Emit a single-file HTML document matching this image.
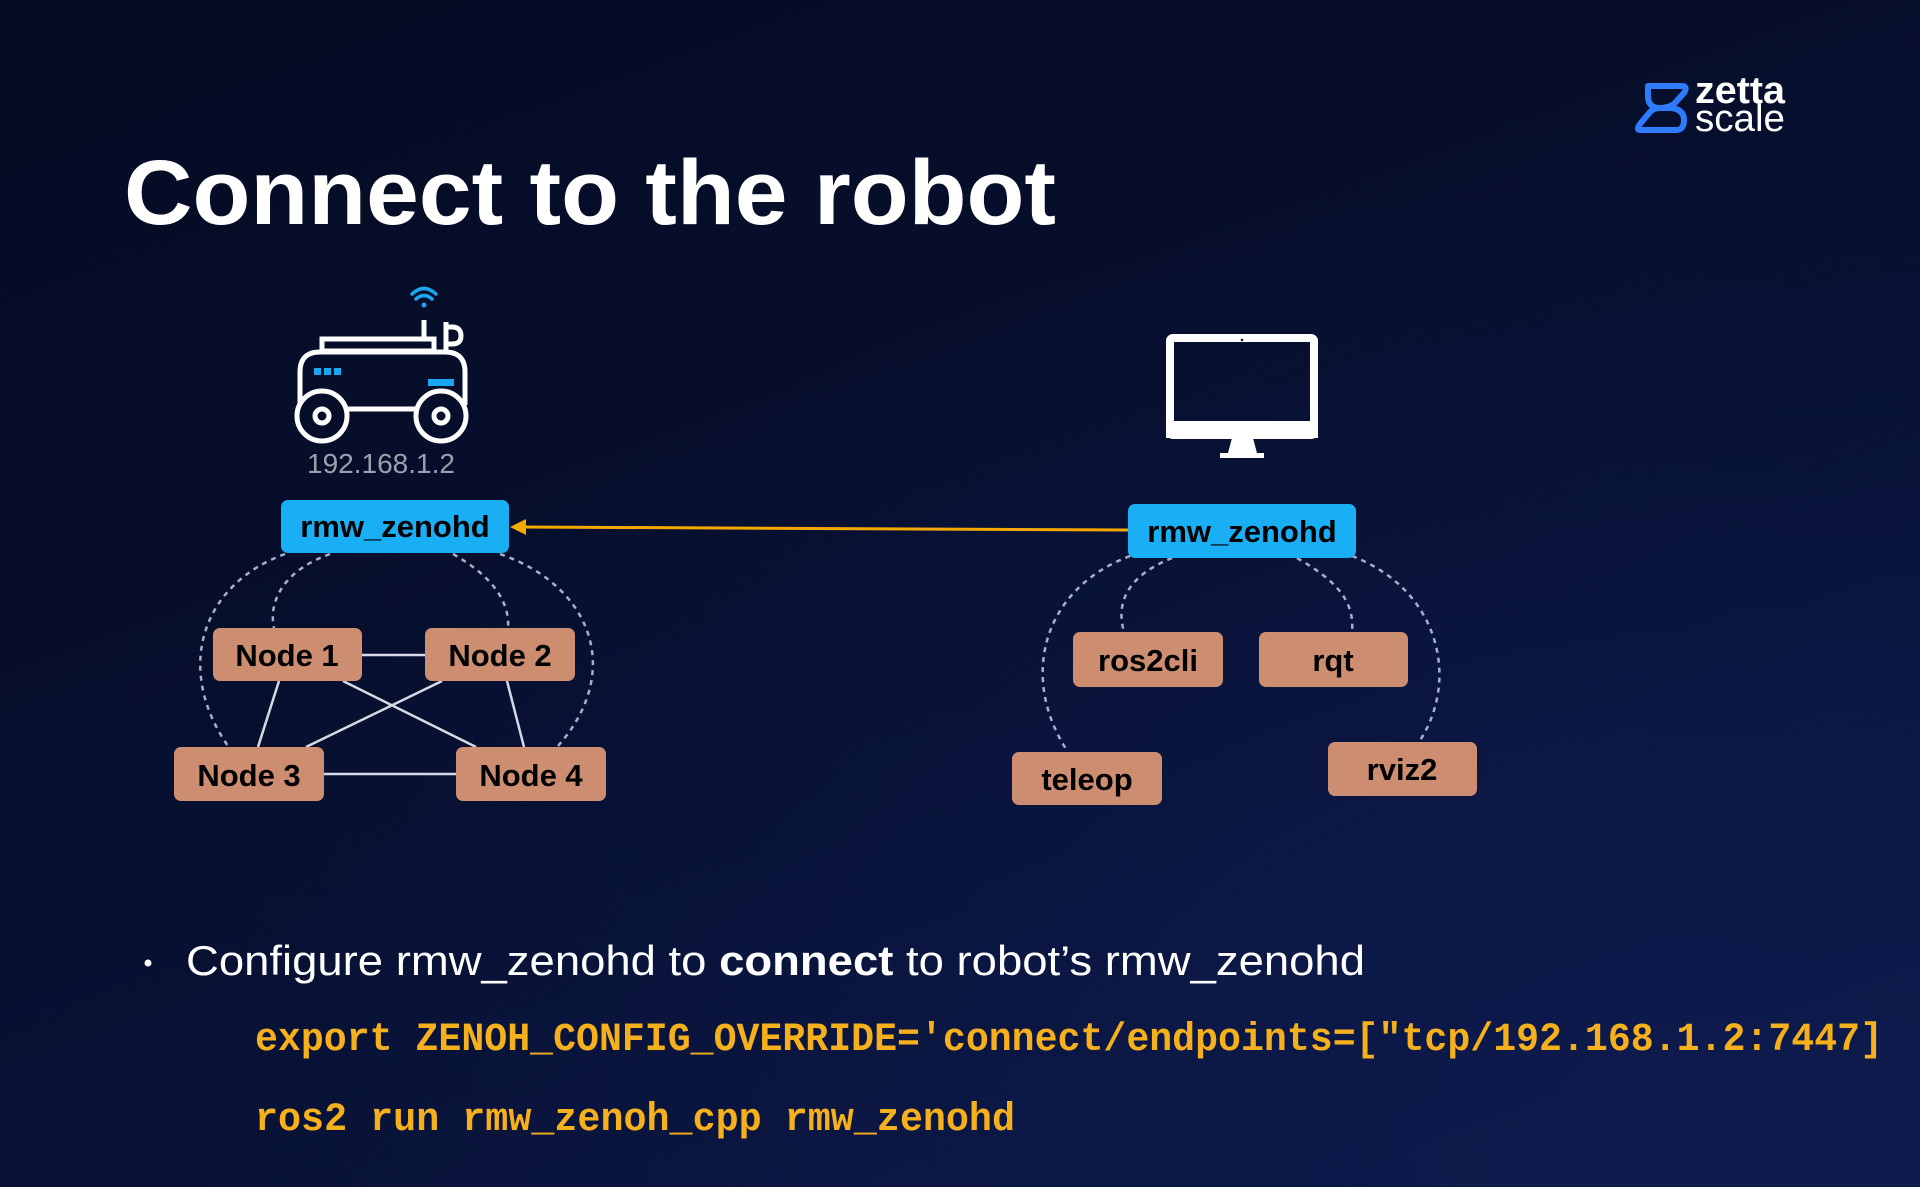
<!DOCTYPE html>
<html><head><meta charset="utf-8"><style>
html,body{margin:0;padding:0;}
body{width:1920px;height:1187px;overflow:hidden;background:linear-gradient(160deg,#050b22 0%,#071030 50%,#0b1744 100%);}
svg{display:block}
</style></head><body>
<svg width="1920" height="1187" viewBox="0 0 1920 1187" xmlns="http://www.w3.org/2000/svg">
<defs>
<radialGradient id="g" cx="0.9" cy="0.95" r="0.8"><stop offset="0" stop-color="#0f1c52" stop-opacity="0.7"/><stop offset="1" stop-color="#0f1c52" stop-opacity="0"/></radialGradient>
</defs>
<rect width="1920" height="1187" fill="url(#g)"/>
<!-- logo -->
<path d="M1648 86 H1682 Q1688 86 1684 93 L1674 104 Q1668 108 1660 108 Q1648 108 1648 96 Z M1660 108 H1672 Q1684 110 1684 120 Q1684 130 1676 130 H1640 Q1636 130 1640 124 L1650 112 Q1654 108 1660 108" fill="none" stroke="#2e7bff" stroke-width="6" stroke-linejoin="round"/>
<text x="1695" y="103" font-family="Liberation Sans, sans-serif" font-size="38" fill="#fff" font-weight="bold" textLength="90" lengthAdjust="spacingAndGlyphs">zetta</text>
<text x="1695" y="131" font-family="Liberation Sans, sans-serif" font-size="38" fill="#fff" textLength="90" lengthAdjust="spacingAndGlyphs">scale</text>
<!-- title -->
<text x="124" y="224" font-family="Liberation Sans, sans-serif" font-weight="bold" font-size="92" fill="#fff" textLength="932" lengthAdjust="spacingAndGlyphs">Connect to the robot</text>
<!-- robot -->
<g fill="none" stroke="#fff" stroke-width="5">
<rect x="322" y="339" width="112" height="12"/>
<path d="M320 352 H445 Q465 352 465 372 V388 M300 388 V372 Q300 352 320 352"/>
<path d="M300 388 V405 M465 388 V405 M346 409 H418"/>
<circle cx="322" cy="416" r="25"/><circle cx="441" cy="416" r="25"/>
<circle cx="322" cy="416" r="7"/><circle cx="441" cy="416" r="7"/>
<line x1="424" y1="320" x2="424" y2="339"/>
<path d="M446 322 V350 M446 327 H452 Q461 327 461 336 Q461 344 452 344 H446"/>
</g>
<rect x="314" y="368" width="7" height="7" fill="#1aa6f0"/><rect x="324" y="368" width="7" height="7" fill="#1aa6f0"/><rect x="334" y="368" width="7" height="7" fill="#1aa6f0"/>
<rect x="428" y="379" width="26" height="7" fill="#1aa6f0"/>
<g fill="none" stroke="#1aa6f0" stroke-width="3.5" stroke-linecap="round">
<path d="M412 294 Q424 283 436 294"/><path d="M416 299 Q424 292 432 299"/>
</g>
<circle cx="424" cy="305" r="2.5" fill="#1aa6f0"/>
<text x="381" y="473" text-anchor="middle" font-family="Liberation Sans, sans-serif" font-size="28" fill="#9aa0ae">192.168.1.2</text>
<!-- monitor -->
<rect x="1170" y="338" width="144" height="97" rx="3" fill="none" stroke="#fff" stroke-width="8"/>
<rect x="1166" y="421" width="152" height="17" fill="#fff"/>
<circle cx="1242" cy="340" r="1.2" fill="#000"/>
<path d="M1232 438 H1253 L1257 453 H1228 Z" fill="#fff"/>
<rect x="1220" y="453" width="44" height="5" fill="#fff"/>
<!-- arrow -->
<line x1="1128" y1="530" x2="522" y2="527" stroke="#f5a800" stroke-width="3"/>
<path d="M510 527 L526 519 L526 535 Z" fill="#f5a800"/>
<!-- dotted -->
<g fill="none" stroke="#a7b0c8" stroke-width="2.5" stroke-dasharray="5 5">
<path d="M285 554 C200 585 175 670 228 746"/>
<path d="M330 554 C285 570 268 600 274 628"/>
<path d="M453 554 C490 575 510 600 508 628"/>
<path d="M500 554 C590 585 625 670 558 746"/>
<path d="M1130 556 C1040 590 1020 680 1068 752"/>
<path d="M1172 558 C1130 575 1115 600 1124 632"/>
<path d="M1297 558 C1335 580 1355 600 1352 632"/>
<path d="M1352 556 C1440 590 1460 680 1419 742"/>
</g>
<!-- solid -->
<g stroke="#d6dae6" stroke-width="2.5">
<line x1="362" y1="655" x2="425" y2="655"/>
<line x1="279" y1="681" x2="258" y2="747"/>
<line x1="343" y1="681" x2="476" y2="747"/>
<line x1="442" y1="681" x2="306" y2="747"/>
<line x1="507" y1="681" x2="524" y2="747"/>
<line x1="324" y1="774" x2="456" y2="774"/>
</g>
<!-- boxes -->
<g font-family="Liberation Sans, sans-serif" font-weight="bold" font-size="31" text-anchor="middle" fill="#000">
<rect x="281" y="500" width="228" height="53" rx="7" fill="#1aaef5"/><text x="395" y="537">rmw_zenohd</text>
<rect x="1128" y="504" width="228" height="54" rx="7" fill="#1aaef5"/><text x="1242" y="542">rmw_zenohd</text>
<g fill="#cc8d71"><rect x="213" y="628" width="149" height="53" rx="7"/><rect x="425" y="628" width="150" height="53" rx="7"/><rect x="174" y="747" width="150" height="54" rx="7"/><rect x="456" y="747" width="150" height="54" rx="7"/>
<rect x="1073" y="632" width="150" height="55" rx="7"/><rect x="1259" y="632" width="149" height="55" rx="7"/><rect x="1012" y="752" width="150" height="53" rx="7"/><rect x="1328" y="742" width="149" height="54" rx="7"/></g>
<text x="287" y="666">Node 1</text><text x="500" y="666">Node 2</text><text x="249" y="786">Node 3</text><text x="531" y="786">Node 4</text>
<text x="1148" y="671">ros2cli</text><text x="1333" y="671">rqt</text><text x="1087" y="790">teleop</text><text x="1402" y="780">rviz2</text>
</g>
<!-- bullet -->
<circle cx="148" cy="963" r="3.5" fill="#fff"/>
<text x="186" y="975" font-family="Liberation Sans, sans-serif" font-size="42" fill="#fff" textLength="1179" lengthAdjust="spacingAndGlyphs">Configure rmw_zenohd to <tspan font-weight="bold">connect</tspan> to robot’s rmw_zenohd</text>
<g font-family="Liberation Mono, monospace" font-weight="bold" font-size="40" fill="#f5b01c">
<text x="255" y="1050" textLength="1628" lengthAdjust="spacingAndGlyphs">export ZENOH_CONFIG_OVERRIDE='connect/endpoints=["tcp/192.168.1.2:7447]</text>
<text x="255" y="1130" textLength="760" lengthAdjust="spacingAndGlyphs">ros2 run rmw_zenoh_cpp rmw_zenohd</text>
</g>
</svg>
</body></html>
